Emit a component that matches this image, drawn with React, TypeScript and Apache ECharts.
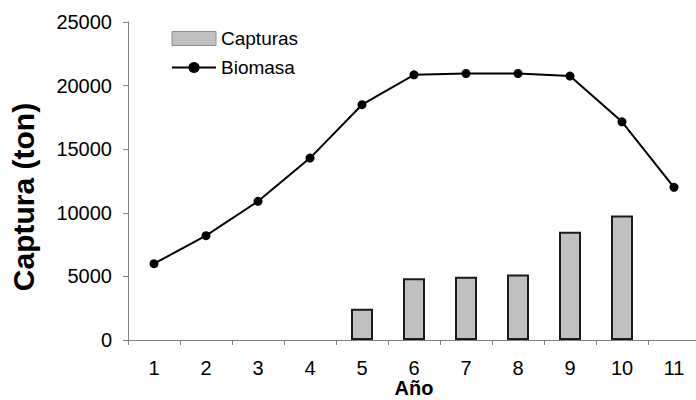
import React, { useEffect, useRef } from "react";
import * as echarts from "echarts";

const years = ["1", "2", "3", "4", "5", "6", "7", "8", "9", "10", "11"];
const capturas: (number | null)[] = [null, null, null, null, 2450, 4850, 4980, 5150, 8520, 9780, null];
const biomasa = [6000, 8200, 10900, 14300, 18500, 20850, 20950, 20950, 20750, 17150, 12000];
const yTicks = { min: 0, max: 25000, interval: 5000 };
const yTitle = "Captura (ton)";
const xTitle = "Año";

const FONT = "'Liberation Sans', Arial, sans-serif";

export default function App() {
  const ref = useRef<HTMLDivElement>(null);
  useEffect(() => {
    if (!ref.current) return;
    const chart = echarts.init(ref.current, null, { renderer: "svg" });
    chart.setOption({
      animation: false,
      backgroundColor: "#ffffff",
      textStyle: { fontFamily: FONT },
      grid: {
        left: 128,
        top: 22,
        bottom: 60,
        width: 572,
        containLabel: false,
        outerBoundsMode: "none",
      },
      legend: {
        orient: "vertical",
        left: 166,
        top: 24,
        itemWidth: 44,
        itemHeight: 14,
        itemGap: 10,
        textStyle: { fontFamily: FONT, fontSize: 19, color: "#000" },
        data: [
          { name: "Capturas", icon: "rect", itemStyle: { color: "#c0c0c0", borderColor: "#8c8c8c", borderWidth: 1 } },
          { name: "Biomasa" },
        ],
      },
      graphic: [
        {
          type: "text",
          x: 23,
          y: 197,
          rotation: Math.PI / 2,
          style: {
            text: yTitle,
            fill: "#000",
            font: `bold 30px ${FONT}`,
            textAlign: "center",
            textVerticalAlign: "middle",
          },
        },
        {
          type: "text",
          x: 414,
          y: 388,
          style: {
            text: xTitle,
            fill: "#000",
            font: `bold 20px ${FONT}`,
            textAlign: "center",
            textVerticalAlign: "middle",
          },
        },
      ],
      xAxis: {
        type: "category",
        data: years,
        boundaryGap: true,
        axisLine: { lineStyle: { color: "#808080", width: 1 } },
        axisTick: { show: true, inside: false, length: 5, alignWithLabel: false, lineStyle: { color: "#808080" } },
        axisLabel: { fontFamily: FONT, fontSize: 20, color: "#000", margin: 18 },
        splitLine: { show: false },
      },
      yAxis: {
        type: "value",
        min: yTicks.min,
        max: yTicks.max,
        interval: yTicks.interval,
        axisLine: { show: true, lineStyle: { color: "#808080", width: 1 } },
        axisTick: { show: true, inside: false, length: 5, lineStyle: { color: "#808080" } },
        axisLabel: {
          fontFamily: FONT,
          fontSize: 20,
          color: "#000",
          margin: 16,
          formatter: (v: number) => String(v),
        },
        splitLine: { show: false },
      },
      series: [
        {
          name: "Capturas",
          type: "bar",
          data: capturas,
          barWidth: 22,
          itemStyle: { color: "#c0c0c0", borderColor: "#1a1a1a", borderWidth: 2 },
        },
        {
          name: "Biomasa",
          type: "line",
          data: biomasa,
          symbol: "circle",
          symbolSize: 9,
          lineStyle: { color: "#000", width: 2 },
          itemStyle: { color: "#000" },
          z: 3,
        },
      ],
    });
    return () => chart.dispose();
  }, []);
  return (
    <div
      ref={ref}
      style={{ position: "fixed", left: 0, top: 0, width: 696, height: 400, background: "#fff" }}
    />
  );
}
